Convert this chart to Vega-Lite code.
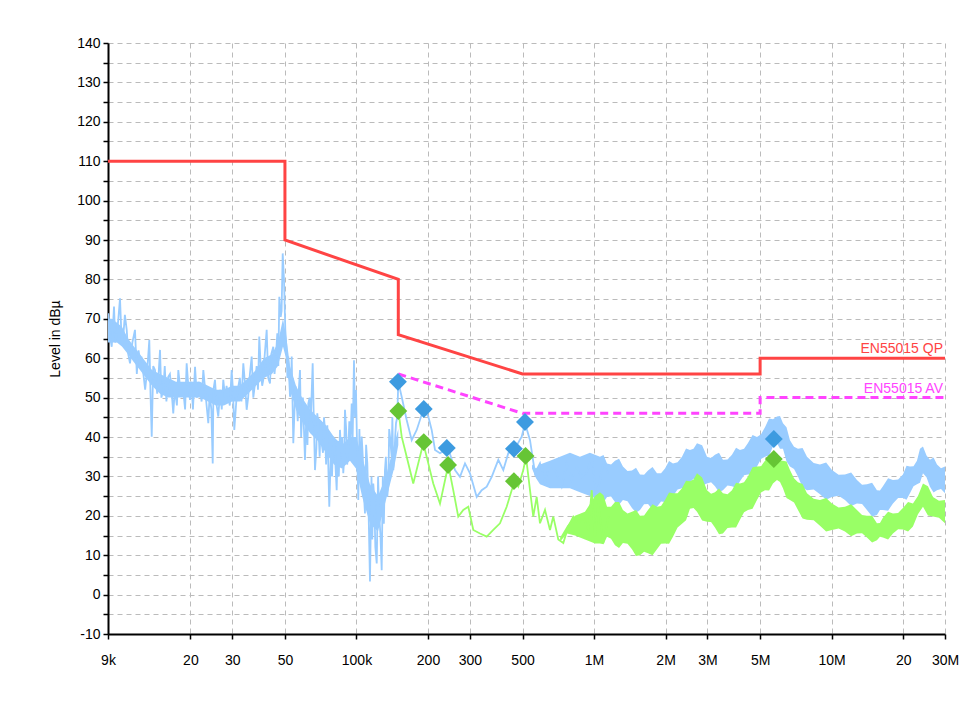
{
"$schema":"https://vega.github.io/schema/vega-lite/v6.json",
"autosize":"none",
"width":837,"height":591,
"padding":{"left":108,"top":43,"right":33,"bottom":67},
"background":"white",
"config":{"view":{"stroke":null},"font":"Liberation Sans"},
"datasets":{
"pk":[
{"f":9000,"v":68},{"f":9030,"v":71.4},{"f":9150,"v":66},{"f":9330,"v":62.9},{"f":9440,"v":68},{"f":9540,"v":73.1},{"f":9660,"v":64},{"f":9790,"v":65.5},{"f":9950,"v":70},{"f":10110,"v":75.2},{"f":10280,"v":63.8},{"f":10450,"v":66},{"f":10600,"v":71},{"f":10790,"v":67.2},{"f":10950,"v":61},{"f":11140,"v":58.7},{"f":11400,"v":64},{"f":11690,"v":67.2},{"f":11900,"v":56},{"f":12100,"v":62},{"f":12270,"v":59.5},{"f":12450,"v":60},{"f":12670,"v":56.2},{"f":12900,"v":52},{"f":13200,"v":58},{"f":13430,"v":64.6},{"f":13600,"v":50},{"f":13750,"v":40.1},{"f":13950,"v":58},{"f":14190,"v":57},{"f":14500,"v":51},{"f":14700,"v":56},{"f":14900,"v":62.1},{"f":15100,"v":50},{"f":15380,"v":51.9},{"f":15600,"v":58},{"f":15850,"v":49},{"f":16140,"v":55.3},{"f":16400,"v":56},{"f":16700,"v":51},{"f":16940,"v":46},{"f":17200,"v":52},{"f":17550,"v":48},{"f":17790,"v":57},{"f":18000,"v":54},{"f":18380,"v":50.2},{"f":18650,"v":52},{"f":19000,"v":47},{"f":19290,"v":58.7},{"f":19600,"v":53},{"f":19920,"v":49.4},{"f":20200,"v":54},{"f":20500,"v":47},{"f":20920,"v":57.8},{"f":21300,"v":50},{"f":21650,"v":54},{"f":21950,"v":51.9},{"f":22300,"v":49},{"f":22670,"v":57},{"f":23000,"v":53},{"f":23400,"v":48},{"f":23790,"v":43.5},{"f":24100,"v":51},{"f":24500,"v":47},{"f":24830,"v":33.3},{"f":25000,"v":52},{"f":25380,"v":54.5},{"f":25800,"v":48},{"f":26210,"v":45.2},{"f":26700,"v":52},{"f":27100,"v":47},{"f":27510,"v":54.5},{"f":28000,"v":50},{"f":28400,"v":53},{"f":28880,"v":50.2},{"f":29300,"v":48},{"f":29840,"v":57},{"f":30200,"v":52},{"f":30610,"v":41.8},{"f":31200,"v":49},{"f":31810,"v":52.8},{"f":32300,"v":55},{"f":32800,"v":49},{"f":33400,"v":58.7},{"f":33900,"v":54},{"f":34510,"v":46.9},{"f":35000,"v":50},{"f":35600,"v":56},{"f":36220,"v":60.4},{"f":36800,"v":50},{"f":37410,"v":53.6},{"f":38000,"v":58},{"f":38500,"v":52},{"f":38990,"v":65.5},{"f":39600,"v":57},{"f":40100,"v":53},{"f":40530,"v":54.5},{"f":41000,"v":60},{"f":41890,"v":67.2},{"f":42500,"v":55},{"f":43250,"v":53.6},{"f":43800,"v":61},{"f":44660,"v":62.9},{"f":45200,"v":56},{"f":45800,"v":60},{"f":46430,"v":66.3},{"f":46900,"v":58},{"f":47340,"v":75.6},{"f":47990,"v":70.5},{"f":48400,"v":72},{"f":48930,"v":86.6},{"f":49550,"v":79.8},{"f":50180,"v":67.2},{"f":50800,"v":62},{"f":51200,"v":55},{"f":51650,"v":60.4},{"f":52510,"v":50.2},{"f":53000,"v":52},{"f":53380,"v":60.4},{"f":54220,"v":38.4},{"f":54800,"v":46},{"f":55300,"v":53},{"f":56030,"v":48.5},{"f":56600,"v":44},{"f":57200,"v":52},{"f":57850,"v":57},{"f":58500,"v":40},{"f":59500,"v":50},{"f":60720,"v":34.2},{"f":61500,"v":45},{"f":62200,"v":38},{"f":62700,"v":48.5},{"f":63500,"v":50},{"f":64200,"v":44},{"f":65420,"v":58.7},{"f":66000,"v":47},{"f":66900,"v":31.6},{"f":67800,"v":37},{"f":68400,"v":46},{"f":69080,"v":43.5},{"f":70000,"v":35},{"f":70700,"v":44},{"f":71390,"v":38.4},{"f":72300,"v":36},{"f":73000,"v":45},{"f":73710,"v":41.8},{"f":74500,"v":33},{"f":75400,"v":43},{"f":76850,"v":22.3},{"f":77900,"v":35},{"f":78900,"v":30},{"f":79880,"v":40.1},{"f":80800,"v":38},{"f":81700,"v":32},{"f":82550,"v":26.5},{"f":83500,"v":39},{"f":84300,"v":30},{"f":85230,"v":41.8},{"f":86200,"v":36},{"f":87000,"v":40},{"f":88000,"v":30.8},{"f":88700,"v":34},{"f":89470,"v":46.9},{"f":90500,"v":42},{"f":91400,"v":33},{"f":92380,"v":36.7},{"f":93300,"v":44},{"f":94300,"v":38},{"f":95470,"v":48.5},{"f":96400,"v":40},{"f":97630,"v":59.5},{"f":98600,"v":45},{"f":99540,"v":51.9},{"f":100700,"v":36},{"f":101800,"v":24},{"f":102900,"v":42},{"f":104000,"v":30},{"f":105200,"v":40.1},{"f":106300,"v":35},{"f":107400,"v":26},{"f":108600,"v":20.6},{"f":109800,"v":38},{"f":111100,"v":33.3},{"f":112400,"v":22},{"f":114000,"v":3.3},{"f":115700,"v":30},{"f":116600,"v":14},{"f":117700,"v":28.2},{"f":118700,"v":25},{"f":120100,"v":12},{"f":121700,"v":7.9},{"f":123300,"v":30},{"f":124800,"v":19.8},{"f":126200,"v":15},{"f":127700,"v":6.2},{"f":129100,"v":30},{"f":130400,"v":18},{"f":131800,"v":31.6},{"f":133000,"v":35},{"f":134800,"v":24.8},{"f":136200,"v":28},{"f":137300,"v":42},{"f":138400,"v":40.1},{"f":140600,"v":35},{"f":141600,"v":45},{"f":142900,"v":31.6},{"f":144700,"v":36},{"f":145500,"v":40},{"f":146700,"v":43.5},{"f":148500,"v":45},{"f":150000,"v":54},
{"f":155000,"v":50.2},{"f":162700,"v":44.3},{"f":170800,"v":39.2},{"f":179300,"v":41.8},{"f":191100,"v":46.9},{"f":200600,"v":45.2},{"f":207300,"v":41.8},{"f":214100,"v":36.7},{"f":224700,"v":35.9},{"f":243500,"v":37.1},{"f":259800,"v":31.6},{"f":272700,"v":29.9},{"f":286300,"v":33.3},{"f":300500,"v":30.8},{"f":320700,"v":24.8},{"f":336600,"v":26.5},{"f":353400,"v":27.4},{"f":370900,"v":29.9},{"f":395400,"v":34.2},{"f":415000,"v":31.6},{"f":435600,"v":35.9},{"f":464800,"v":37.1},{"f":496000,"v":40.1},{"f":512200,"v":43.5},{"f":537600,"v":39.2},{"f":564300,"v":30.8},{"f":592200,"v":33.3},{"f":621700,"v":28.2},{"f":652500,"v":33.3},{"f":696300,"v":30.8},{"f":730900,"v":27.4},{"f":767200,"v":33.3},{"f":805400,"v":29.1},{"f":845300,"v":32.5},{"f":887200,"v":29.9},{"f":931300,"v":30.8},{"f":977700,"v":35},{"f":1026000,"v":24.8},{"f":1094000,"v":33.3},{"f":1148000,"v":30.8}
],
"av":[
{"f":150000,"v":46.9},{"f":155000,"v":40.1},{"f":162700,"v":35},{"f":173400,"v":28.2},{"f":182000,"v":33.3},{"f":191100,"v":38.4},{"f":200600,"v":33.3},{"f":210500,"v":28.2},{"f":224700,"v":23.1},{"f":243500,"v":32.9},{"f":255500,"v":26.5},{"f":268200,"v":19.8},{"f":281600,"v":21.5},{"f":295600,"v":22.3},{"f":310300,"v":16.4},{"f":331100,"v":15.5},{"f":353400,"v":14.7},{"f":376600,"v":16.4},{"f":401800,"v":18.1},{"f":428800,"v":22.3},{"f":450100,"v":26.5},{"f":464800,"v":28.7},{"f":479900,"v":27.4},{"f":503700,"v":31.6},{"f":517100,"v":35},{"f":537600,"v":26.5},{"f":554900,"v":19.8},{"f":573400,"v":24.8},{"f":592200,"v":18.1},{"f":621700,"v":21.5},{"f":652500,"v":16.4},{"f":673600,"v":19.8},{"f":707100,"v":14},{"f":742400,"v":13.1},{"f":779300,"v":17.3},{"f":817900,"v":19.8},{"f":858600,"v":18.1},{"f":901200,"v":19.8},{"f":945900,"v":16.4},{"f":977700,"v":26.5},{"f":1009000,"v":14.7},{"f":1042000,"v":23.1},{"f":1094000,"v":13.1},{"f":1148000,"v":19.8}
],
"pkband":[
{"g":1,"f":9000,"hi":70,"lo":64},{"g":1,"f":9330,"hi":70,"lo":64},{"g":1,"f":9820,"hi":69,"lo":64},{"g":1,"f":10300,"hi":68,"lo":63},{"g":1,"f":10930,"hi":65,"lo":61},{"g":1,"f":11570,"hi":63,"lo":59},{"g":1,"f":12270,"hi":61,"lo":57},{"g":1,"f":13010,"hi":59,"lo":55},{"g":1,"f":13790,"hi":57,"lo":53},{"g":1,"f":14900,"hi":56,"lo":51},{"g":1,"f":16140,"hi":55,"lo":50},{"g":1,"f":17390,"hi":54,"lo":50},{"g":1,"f":18800,"hi":54,"lo":50},{"g":1,"f":20310,"hi":54,"lo":50},{"g":1,"f":21950,"hi":54,"lo":50},{"g":1,"f":23720,"hi":53,"lo":49},{"g":1,"f":25630,"hi":52,"lo":48},{"g":1,"f":27700,"hi":52,"lo":48},{"g":1,"f":29940,"hi":53,"lo":49},{"g":1,"f":32350,"hi":53,"lo":49},{"g":1,"f":34950,"hi":55,"lo":51},{"g":1,"f":37770,"hi":57,"lo":53},{"g":1,"f":40810,"hi":60,"lo":55},{"g":1,"f":44100,"hi":61,"lo":56},{"g":1,"f":46730,"hi":64,"lo":58},{"g":1,"f":49060,"hi":70,"lo":63},{"g":1,"f":50500,"hi":66,"lo":60},{"g":1,"f":52510,"hi":58,"lo":52},{"g":1,"f":55660,"hi":53,"lo":47},{"g":1,"f":58980,"hi":50,"lo":44},{"g":1,"f":63740,"hi":47,"lo":41},{"g":1,"f":68870,"hi":45,"lo":39},{"g":1,"f":74410,"hi":43,"lo":36},{"g":1,"f":80420,"hi":40,"lo":33},{"g":1,"f":86900,"hi":38,"lo":32},{"g":1,"f":93910,"hi":40,"lo":34},{"g":1,"f":99540,"hi":40,"lo":32},{"g":1,"f":105500,"hi":35,"lo":25},{"g":1,"f":114000,"hi":28,"lo":18},{"g":1,"f":123200,"hi":25,"lo":16},{"g":1,"f":133100,"hi":30,"lo":24},{"g":1,"f":143900,"hi":38,"lo":32},{"g":1,"f":150000,"hi":42,"lo":38},
{"g":2,"f":548000,"hi":33,"lo":32},{"g":2,"f":570000,"hi":32,"lo":29.5},{"g":2,"f":592200,"hi":33,"lo":28},{"g":2,"f":652500,"hi":34,"lo":27},{"g":2,"f":718800,"hi":35,"lo":27},{"g":2,"f":791800,"hi":36,"lo":27},{"g":2,"f":872300,"hi":35,"lo":26},{"g":2,"f":960800,"hi":36,"lo":25},
{"g":2,"f":1059000,"hi":35,"lo":24},{"g":2,"f":1096000,"hi":35.4,"lo":23.4},{"g":2,"f":1134000,"hi":33.3,"lo":24.8},{"g":2,"f":1179000,"hi":33,"lo":24.9},{"g":2,"f":1225000,"hi":34,"lo":23.5},{"g":2,"f":1274000,"hi":34.5,"lo":22.8},{"g":2,"f":1323000,"hi":32.5,"lo":24},{"g":2,"f":1383000,"hi":31.4,"lo":23.7},{"g":2,"f":1444000,"hi":31.5,"lo":22},{"g":2,"f":1502000,"hi":32.2,"lo":20.8},{"g":2,"f":1561000,"hi":30.5,"lo":21.5},{"g":2,"f":1624000,"hi":30.4,"lo":22.9},{"g":2,"f":1687000,"hi":31.5,"lo":23},{"g":2,"f":1763000,"hi":32.4,"lo":21.6},{"g":2,"f":1840000,"hi":30.8,"lo":22.3},{"g":2,"f":1914000,"hi":30.8,"lo":23.6},{"g":2,"f":1989000,"hi":32,"lo":23.5},{"g":2,"f":2069000,"hi":33.9,"lo":23.2},{"g":2,"f":2149000,"hi":33.3,"lo":25},{"g":2,"f":2247000,"hi":33.6,"lo":26.7},{"g":2,"f":2345000,"hi":35,"lo":27},{"g":2,"f":2439000,"hi":37.1,"lo":26.7},{"g":2,"f":2533000,"hi":36.7,"lo":28.5},{"g":2,"f":2622000,"hi":37,"lo":29.4},{"g":2,"f":2712000,"hi":38.4,"lo":29},{"g":2,"f":2850000,"hi":37.9,"lo":27.6},{"g":2,"f":2988000,"hi":35,"lo":28.2},{"g":2,"f":3108000,"hi":34.7,"lo":28.5},{"g":2,"f":3228000,"hi":35.5,"lo":27.5},{"g":2,"f":3357000,"hi":36,"lo":26},{"g":2,"f":3487000,"hi":34.2,"lo":26.5},{"g":2,"f":3646000,"hi":34.3,"lo":27.7},{"g":2,"f":3806000,"hi":35.5,"lo":27.5},{"g":2,"f":3960000,"hi":37.3,"lo":27.1},{"g":2,"f":4114000,"hi":36.7,"lo":28.8},{"g":2,"f":4279000,"hi":37,"lo":30.3},{"g":2,"f":4445000,"hi":38.5,"lo":30.5},{"g":2,"f":4647000,"hi":40.5,"lo":30.5},{"g":2,"f":4850000,"hi":40,"lo":32.5},{"g":2,"f":5046000,"hi":40.7,"lo":34.4},{"g":2,"f":5242000,"hi":42.5,"lo":35},{"g":2,"f":5453000,"hi":44.7,"lo":35.3},{"g":2,"f":5664000,"hi":44.5,"lo":37.6},{"g":2,"f":5887000,"hi":45.2,"lo":38.4},{"g":2,"f":6063000,"hi":45.3,"lo":37},{"g":2,"f":6240000,"hi":43.5,"lo":37},{"g":2,"f":6458000,"hi":42.5,"lo":33.8},{"g":2,"f":6676000,"hi":39.2,"lo":32.5},{"g":2,"f":6946000,"hi":37.5,"lo":31.9},{"g":2,"f":7216000,"hi":37,"lo":30},{"g":2,"f":7545000,"hi":37.2,"lo":27.2},{"g":2,"f":7874000,"hi":35,"lo":26.5},{"g":2,"f":8403000,"hi":33.4,"lo":26.7},{"g":2,"f":8931000,"hi":33,"lo":25.5},{"g":2,"f":9481000,"hi":33.5,"lo":24.1},{"g":2,"f":10030000,"hi":31.6,"lo":24.8},{"g":2,"f":10700000,"hi":30.4,"lo":25.1},{"g":2,"f":11380000,"hi":30.5,"lo":24},{"g":2,"f":12080000,"hi":31,"lo":22.5},{"g":2,"f":12780000,"hi":29.1,"lo":23.1},{"g":2,"f":13430000,"hi":27.9,"lo":23},{"g":2,"f":14080000,"hi":28,"lo":21.5},{"g":2,"f":14800000,"hi":28.4,"lo":19.8},{"g":2,"f":15510000,"hi":26.5,"lo":20.2},{"g":2,"f":15970000,"hi":26.4,"lo":21.5},{"g":2,"f":16440000,"hi":27.5,"lo":21.5},{"g":2,"f":17280000,"hi":29.5,"lo":21.3},{"g":2,"f":18120000,"hi":29.1,"lo":23.1},{"g":2,"f":19040000,"hi":29.2,"lo":24.5},{"g":2,"f":19960000,"hi":30.5,"lo":24.5},{"g":2,"f":20660000,"hi":32.7,"lo":24.1},{"g":2,"f":21360000,"hi":32.5,"lo":25.7},{"g":2,"f":22110000,"hi":32.6,"lo":27.5},{"g":2,"f":22860000,"hi":34,"lo":28},{"g":2,"f":23540000,"hi":37,"lo":28.4},{"g":2,"f":24230000,"hi":37.6,"lo":30.8},{"g":2,"f":25080000,"hi":35.3,"lo":29.8},{"g":2,"f":25930000,"hi":34.2,"lo":27.4},{"g":2,"f":26850000,"hi":34.8,"lo":25.9},{"g":2,"f":27760000,"hi":33,"lo":26.5},{"g":2,"f":28860000,"hi":32.1,"lo":26.8},{"g":2,"f":30000000,"hi":32.5,"lo":25.7}
],
"avband":[
{"f":720000,"hi":14.5,"lo":13.5},{"f":770000,"hi":17.5,"lo":15.5},{"f":831000,"hi":20,"lo":15},{"f":915800,"hi":21,"lo":14},{"f":1009000,"hi":25,"lo":13},
{"f":1059000,"hi":26,"lo":13},{"f":1096000,"hi":25.2,"lo":12.8},{"f":1134000,"hi":22.3,"lo":14.7},{"f":1179000,"hi":22.3,"lo":14.2},{"f":1225000,"hi":23.5,"lo":12.5},{"f":1274000,"hi":23.5,"lo":11.8},{"f":1323000,"hi":21.5,"lo":13.1},{"f":1383000,"hi":20.6,"lo":12.9},{"f":1444000,"hi":21,"lo":11.5},{"f":1502000,"hi":21.5,"lo":9.8},{"f":1561000,"hi":20,"lo":10},{"f":1624000,"hi":20.1,"lo":10.9},{"f":1687000,"hi":21.5,"lo":10.5},{"f":1763000,"hi":22.9,"lo":10},{"f":1840000,"hi":22.3,"lo":11.5},{"f":1914000,"hi":22.5,"lo":12.9},{"f":1989000,"hi":24,"lo":13},{"f":2069000,"hi":25.9,"lo":12.9},{"f":2149000,"hi":25.7,"lo":14.7},{"f":2247000,"hi":25.7,"lo":17},{"f":2345000,"hi":27,"lo":18},{"f":2439000,"hi":28.9,"lo":18.9},{"f":2533000,"hi":28.8,"lo":21.8},{"f":2622000,"hi":29.2,"lo":22},{"f":2712000,"hi":30.8,"lo":21},{"f":2850000,"hi":29.7,"lo":18.8},{"f":2988000,"hi":26.5,"lo":18.5},{"f":3108000,"hi":25.6,"lo":18.4},{"f":3228000,"hi":26,"lo":17},{"f":3357000,"hi":26.9,"lo":15.3},{"f":3487000,"hi":25.7,"lo":15.5},{"f":3646000,"hi":25.5,"lo":16.9},{"f":3806000,"hi":26.5,"lo":17},{"f":3960000,"hi":28.4,"lo":17},{"f":4114000,"hi":28.2,"lo":19},{"f":4279000,"hi":28.5,"lo":20.9},{"f":4445000,"hi":30,"lo":21.5},{"f":4647000,"hi":32.3,"lo":21.8},{"f":4850000,"hi":32.5,"lo":24},{"f":5046000,"hi":32.6,"lo":25.9},{"f":5242000,"hi":34,"lo":26.5},{"f":5453000,"hi":35.5,"lo":26.4},{"f":5664000,"hi":35,"lo":28.2},{"f":5887000,"hi":35,"lo":29.1},{"f":6063000,"hi":34,"lo":28.6},{"f":6240000,"hi":34,"lo":27},{"f":6458000,"hi":33.8,"lo":24.5},{"f":6676000,"hi":31.6,"lo":24},{"f":6946000,"hi":29.5,"lo":23.4},{"f":7216000,"hi":28.5,"lo":21.5},{"f":7545000,"hi":28.1,"lo":19.3},{"f":7874000,"hi":25.7,"lo":19},{"f":8403000,"hi":24.3,"lo":18.9},{"f":8931000,"hi":24,"lo":17.5},{"f":9481000,"hi":24.5,"lo":16},{"f":10030000,"hi":23.1,"lo":16.4},{"f":10700000,"hi":22.1,"lo":16.8},{"f":11380000,"hi":22.3,"lo":16},{"f":12080000,"hi":22.9,"lo":14.8},{"f":12780000,"hi":21.5,"lo":15.5},{"f":13430000,"hi":20.2,"lo":15.6},{"f":14080000,"hi":20,"lo":14.5},{"f":14800000,"hi":20,"lo":13.2},{"f":15510000,"hi":18.1,"lo":13.8},{"f":15970000,"hi":18.2,"lo":14.7},{"f":16440000,"hi":19.5,"lo":14.5},{"f":17280000,"hi":21,"lo":14},{"f":18120000,"hi":20.6,"lo":15.5},{"f":19040000,"hi":20.7,"lo":16.6},{"f":19960000,"hi":22,"lo":16.5},{"f":20970000,"hi":23.5,"lo":16},{"f":21990000,"hi":23.1,"lo":17.3},{"f":23080000,"hi":25,"lo":20.4},{"f":24230000,"hi":28.2,"lo":22.3},{"f":25430000,"hi":27.5,"lo":20.1},{"f":26700000,"hi":24.8,"lo":19.8},{"f":28300000,"hi":23.8,"lo":19.5},{"f":30000000,"hi":24,"lo":18.1}
],
"qp":[
{"i":1,"f":9000,"v":110},{"i":2,"f":50000,"v":110},{"i":3,"f":50000,"v":90},{"i":4,"f":150000,"v":80},{"i":5,"f":150000,"v":66},{"i":6,"f":500000,"v":56},{"i":7,"f":5000000,"v":56},{"i":8,"f":5000000,"v":60},{"i":9,"f":30000000,"v":60}
],
"avlim":[
{"i":1,"f":150000,"v":56},{"i":2,"f":500000,"v":46},{"i":3,"f":5000000,"v":46},{"i":4,"f":5000000,"v":50},{"i":5,"f":30000000,"v":50}
],
"marks":[
{"f":149500,"v":54.0,"s":"pk"},{"f":192000,"v":47.1,"s":"pk"},{"f":240000,"v":37.2,"s":"pk"},{"f":460000,"v":37.0,"s":"pk"},{"f":512000,"v":43.8,"s":"pk"},{"f":5710000,"v":39.5,"s":"pk"},
{"f":150000,"v":46.6,"s":"av"},{"f":192000,"v":38.7,"s":"av"},{"f":243000,"v":32.9,"s":"av"},{"f":460000,"v":28.8,"s":"av"},{"f":515000,"v":35.2,"s":"av"},{"f":5710000,"v":34.4,"s":"av"}
],
"labqp":[{"f":30000000,"v":60,"t":"EN55015 QP"}],
"labav":[{"f":30000000,"v":50,"t":"EN55015 AV"}]
},
"encoding":{
"x":{"field":"f","type":"quantitative","scale":{"type":"log","domain":[9000,30000000]},
 "axis":{"title":null,"values":[9000,20000,30000,50000,100000,200000,300000,500000,1000000,2000000,3000000,5000000,10000000,20000000,30000000],
 "labelExpr":"datum.value==9000?'9k':datum.value==100000?'100k':datum.value<1000000?format(datum.value/1000,'d'):datum.value==20000000?'20':format(datum.value/1000000,'d')+'M'",
 "grid":true,"gridDash":[5,4],"gridColor":"#bbbbbb","gridWidth":1,
 "domainColor":"#000000","domainWidth":2,"tickColor":"#000000","tickWidth":1.5,"tickSize":5,
 "labelFont":"Liberation Sans","labelFontSize":14,"labelColor":"#000000","labelPadding":14,"labelFlush":false,"labelOverlap":false}},
"y":{"field":"v","type":"quantitative","scale":{"domain":[-10,140],"nice":false,"zero":false},
 "axis":{"title":"Level in dBµ","values":[-10,-5,0,5,10,15,20,25,30,35,40,45,50,55,60,65,70,75,80,85,90,95,100,105,110,115,120,125,130,135,140],
 "labelExpr":"datum.value % 10 == 0 ? '' + datum.value : ''",
 "grid":true,"gridDash":[5,4],"gridColor":"#bbbbbb","gridWidth":1,
 "domainColor":"#000000","domainWidth":2,"tickColor":"#000000","tickWidth":1.5,"tickSize":5,
 "labelFont":"Liberation Sans","labelFontSize":14,"labelColor":"#000000","labelPadding":3,"labelOverlap":false,
 "titleFont":"Liberation Sans","titleFontSize":14,"titleFontWeight":"normal","titleColor":"#000000","titlePadding":14}}
},
"layer":[
{"data":{"name":"pkband"},"mark":{"type":"area","color":"#99ccff","opacity":1,"clip":true},"encoding":{"y":{"field":"hi","type":"quantitative"},"y2":{"field":"lo"},"detail":{"field":"g","type":"nominal"}}},
{"data":{"name":"pk"},"mark":{"type":"line","color":"#99ccff","strokeWidth":1.8,"clip":true}},
{"data":{"name":"avband"},"mark":{"type":"area","color":"#99ff66","opacity":1,"clip":true},"encoding":{"y":{"field":"hi","type":"quantitative"},"y2":{"field":"lo"}}},
{"data":{"name":"av"},"mark":{"type":"line","color":"#99ff66","strokeWidth":1.8,"clip":true}},
{"data":{"name":"qp"},"mark":{"type":"line","color":"#ff4444","strokeWidth":3},"encoding":{"order":{"field":"i","type":"quantitative"}}},
{"data":{"name":"avlim"},"mark":{"type":"line","color":"#ff44ff","strokeWidth":3,"strokeDash":[8,5]},"encoding":{"order":{"field":"i","type":"quantitative"}}},
{"data":{"name":"marks"},"mark":{"type":"point","shape":"diamond","filled":true,"size":320,"opacity":1},
 "encoding":{"color":{"field":"s","type":"nominal","scale":{"domain":["pk","av"],"range":["#3d9be0","#66c535"]},"legend":null}}},
{"data":{"name":"labqp"},"mark":{"type":"text","align":"right","baseline":"bottom","dx":-2,"dy":-2,"fontSize":14,"font":"Liberation Sans","color":"#ff4444"},
 "encoding":{"text":{"field":"t"}}},
{"data":{"name":"labav"},"mark":{"type":"text","align":"right","baseline":"bottom","dx":-2,"dy":-2,"fontSize":14,"font":"Liberation Sans","color":"#ff44ff"},
 "encoding":{"text":{"field":"t"}}}
]
}
